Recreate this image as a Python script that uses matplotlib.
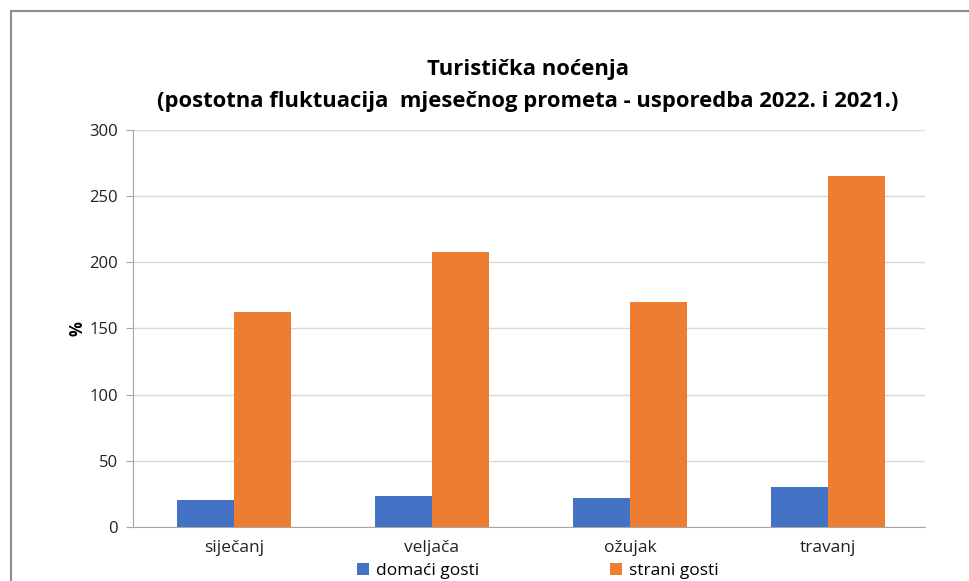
import matplotlib.pyplot as plt
import numpy as np
from matplotlib.patches import Rectangle

# data
months = ['siječanj', 'veljača', 'ožujak', 'travanj']
domaci = [20.5, 23.5, 22, 30]
strani = [162.5, 208, 170, 265]

plt.rcParams['font.family'] = ['Open Sans', 'DejaVu Sans']

W, H = 969, 581
fig = plt.figure(figsize=(W / 100, H / 100), dpi=100)
ax = fig.add_axes([133 / W, 1 - 527 / H, (925 - 133) / W, (527 - 130) / H])

x = np.arange(len(months))
w = 0.288
ax.bar(x - w / 2 + 0.01, domaci, w, color='#4472C4', label='domaći gosti', zorder=3)
ax.bar(x + w / 2 + 0.01, strani, w, color='#ED7D31', label='strani gosti', zorder=3)

ax.set_xlim(-0.5, len(months) - 0.5)
ax.set_ylim(0, 300)
ax.set_yticks(range(0, 301, 50))
ax.set_xticks(x + 0.01)
ax.set_xticklabels(months)
ax.grid(axis='y', color='#D9D9D9', lw=1, zorder=0)

for s in ['top', 'right']:
    ax.spines[s].set_visible(False)
ax.spines['left'].set_color('#A6A6A6')
ax.spines['bottom'].set_color('#A6A6A6')
ax.tick_params(axis='y', length=5, color='#A6A6A6', labelsize=12, labelcolor='#222222', pad=6)
ax.tick_params(axis='x', length=0, labelsize=12.5, labelcolor='#222222', pad=9)

ax.set_ylabel('%', fontsize=12, fontweight='bold', labelpad=2)

fig.text(528 / W, 1 - 70 / H, 'Turistička noćenja', ha='center', va='center',
         fontsize=15.8, fontweight='bold')
fig.text(528 / W, 1 - 102 / H,
         '(postotna fluktuacija  mjesečnog prometa - usporedba 2022. i 2021.)',
         ha='center', va='center', fontsize=15.8, fontweight='bold')

fig.legend(loc='center', bbox_to_anchor=(538 / W, 1 - 571 / H), ncol=2,
           frameon=False, fontsize=12.5, handlelength=0.7, handleheight=0.7,
           columnspacing=7.5, handletextpad=0.4)

# outer chart border (right and bottom edges are cut off in the reference)
fig.patches.append(Rectangle((11 / W, -0.1), 1.2, 1 - 11 / H + 0.1,
                             transform=fig.transFigure, fill=False,
                             edgecolor='#8C8C8C', lw=1.5))

fig.savefig('out.png', dpi=100)
